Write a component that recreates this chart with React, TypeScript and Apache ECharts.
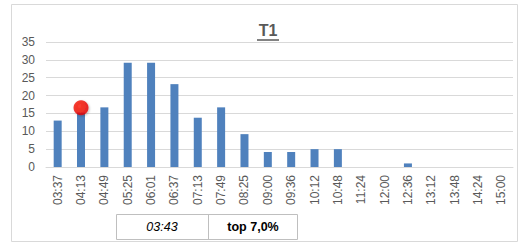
import React, { useEffect, useRef } from "react";
import * as echarts from "echarts";

const categories = ["03:37","04:13","04:49","05:25","06:01","06:37","07:13","07:49","08:25","09:00","09:36","10:12","10:48","11:24","12:00","12:36","13:12","13:48","14:24","15:00"];
const barValues = [13, 15.2, 16.7, 29.2, 29.2, 23.2, 13.8, 16.7, 9.2, 4.2, 4.2, 5, 5, 0, 0, 1, 0, 0, 0, 0];
const markerIndex = 1;
const markerValue = 16.6;
const yTicks = [0, 5, 10, 15, 20, 25, 30, 35];
const title = "T1";
const tableCells = ["03:43", "top 7,0%"];

export default function App() {
  const ref = useRef<HTMLDivElement>(null);
  useEffect(() => {
    document.body.style.margin = "0";
    const chart = echarts.init(ref.current!, null, { renderer: "svg" });
    const scatterData = barValues.map((_, i) => (i === markerIndex ? markerValue : null));
    chart.setOption({
      animation: false,
      grid: { left: 46, right: 12, top: 42, bottom: 77 },
      xAxis: {
        type: "category",
        data: categories,
        axisLine: { lineStyle: { color: "#d9d9d9" } },
        axisTick: { show: false },
        axisLabel: { rotate: 90, color: "#595959", fontSize: 12, fontFamily: "Liberation Sans", margin: 8, interval: 0 },
      },
      yAxis: {
        type: "value",
        min: yTicks[0],
        max: yTicks[yTicks.length - 1],
        interval: 5,
        axisLine: { show: false },
        axisTick: { show: false },
        splitLine: { lineStyle: { color: "#d9d9d9" } },
        axisLabel: { color: "#595959", fontSize: 12, fontFamily: "Liberation Sans", margin: 11 },
      },
      series: [
        {
          type: "bar",
          data: barValues,
          barWidth: 8,
          itemStyle: { color: "#4f81bd" },
        },
        {
          type: "scatter",
          data: scatterData,
          symbolSize: 15,
          itemStyle: {
            color: new echarts.graphic.RadialGradient(0.4, 0.4, 0.6, [
              { offset: 0, color: "#ff1a0a" },
              { offset: 1, color: "#e60000" },
            ]),
            shadowColor: "rgba(0,0,0,0.3)",
            shadowBlur: 2,
            shadowOffsetX: 1,
            shadowOffsetY: 1,
          },
          z: 5,
        },
      ],
      graphic: [
        {
          type: "rect",
          shape: { x: 11.5, y: 4.5, width: 506, height: 237 },
          style: { fill: "none", stroke: "#d9d9d9", lineWidth: 1 },
          silent: true,
        },
        {
          type: "text",
          x: 268,
          y: 30,
          style: { text: title, fill: "#595959", font: "bold 16px 'Liberation Sans'", textAlign: "center", textVerticalAlign: "middle" },
        },
        {
          type: "line",
          shape: { x1: 257, y1: 40, x2: 279, y2: 40 },
          style: { stroke: "#595959", lineWidth: 1.5 },
        },
        {
          type: "rect",
          shape: { x: 116.5, y: 214.5, width: 181, height: 25 },
          style: { fill: "#fff", stroke: "#bfbfbf", lineWidth: 1 },
        },
        {
          type: "line",
          shape: { x1: 208.5, y1: 214.5, x2: 208.5, y2: 239.5 },
          style: { stroke: "#bfbfbf", lineWidth: 1 },
        },
        {
          type: "text",
          x: 162,
          y: 227,
          style: { text: tableCells[0], fill: "#000", font: "italic 12.5px 'Liberation Sans'", textAlign: "center", textVerticalAlign: "middle" },
        },
        {
          type: "text",
          x: 253,
          y: 227,
          style: { text: tableCells[1], fill: "#000", font: "bold 12.5px 'Liberation Sans'", textAlign: "center", textVerticalAlign: "middle" },
        },
      ],
    });
    return () => chart.dispose();
  }, []);
  return <div ref={ref} style={{ width: 525, height: 244 }} />;
}
